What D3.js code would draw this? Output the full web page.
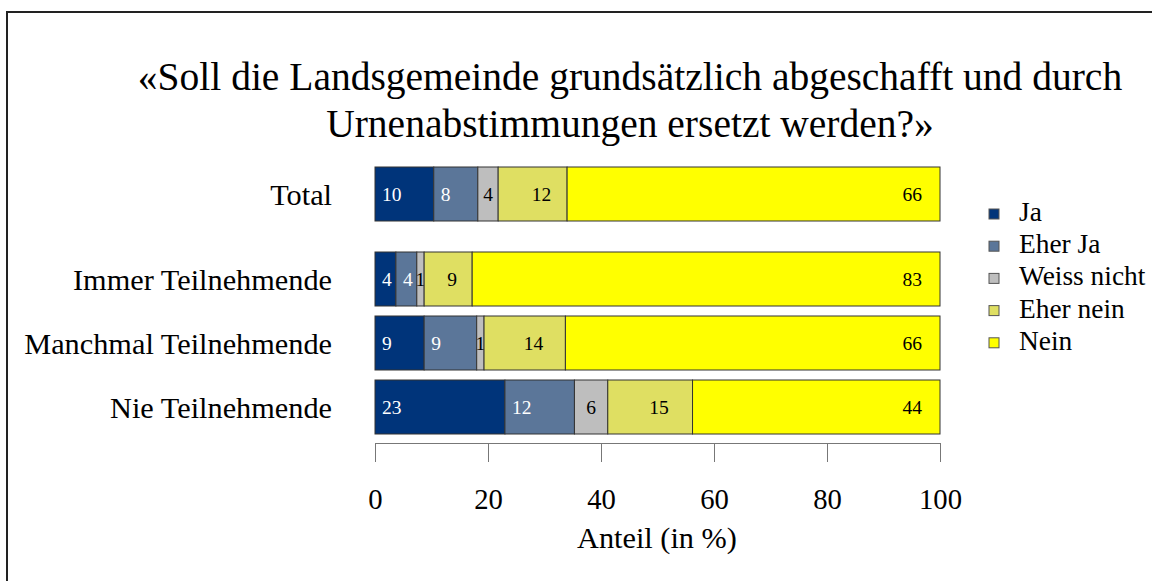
<!DOCTYPE html>
<html lang="de">
<head>
<meta charset="UTF-8">
<title>Landsgemeinde</title>
<script src="https://cdn.jsdelivr.net/npm/d3@7"></script>
<style>
  body { margin: 0; background: #fff; }
  text { font-family: "Liberation Serif", "DejaVu Serif", serif; }
</style>
</head>
<body>
<svg id="main" width="1152" height="581"></svg>
<script>
// data (percent)
categories = ["Total", "Immer Teilnehmende", "Manchmal Teilnehmende", "Nie Teilnehmende"];
keys = ["Ja", "Eher Ja", "Weiss nicht", "Eher nein", "Nein"];
ja         = [10.4, 3.7, 8.7, 23.0];
eherJa     = [7.8, 3.7, 9.3, 12.3];
weissNicht = [3.6, 1.3, 1.3, 5.9];
eherNein   = [12.2, 8.5, 14.4, 15.0];
nein       = [66.0, 82.8, 66.3, 43.8];
xTicks = [0, 20, 40, 60, 80, 100];
titleLines = ["«Soll die Landsgemeinde grundsätzlich abgeschafft und durch",
              "Urnenabstimmungen ersetzt werden?»"];

colors = ["#00347a", "#5b7699", "#bebebe", "#dfdf62", "#ffff00"];
textColors = ["#fff", "#fff", "#000", "#000", "#000"];

var svg = d3.select("svg#main");

// frame
svg.append("path")
  .attr("d", "M7,581 V12 H1152")
  .attr("fill", "none")
  .attr("stroke", "#222")
  .attr("stroke-width", 2);

// title
svg.append("g").selectAll("text")
  .data(titleLines)
  .enter().append("text")
  .attr("x", 630)
  .attr("y", function(d, i) { return 90 + i * 47; })
  .attr("text-anchor", "middle")
  .style("font-size", "39.5px")
  .text(function(d) { return d; });

var series = [ja, eherJa, weissNicht, eherNein, nein];
var table = categories.map(function(c, i) {
  var row = { cat: c };
  keys.forEach(function(k, j) { row[k] = series[j][i]; });
  return row;
});

var stacked = d3.stack().keys(keys)(table);

var x = d3.scaleLinear().domain([0, 100]).range([375, 940]);
var y = d3.scaleBand().domain(categories).range([188, 434]).paddingInner(10 / 64);
var totalShift = 21;
function rowTop(c) { return y(c) - (c === "Total" ? totalShift : 0); }

var groups = svg.selectAll("g.series")
  .data(stacked)
  .enter().append("g")
  .attr("class", "series");

groups.selectAll("rect")
  .data(function(d) { return d; })
  .enter().append("rect")
  .attr("x", function(d) { return x(d[0]); })
  .attr("y", function(d) { return rowTop(d.data.cat); })
  .attr("width", function(d) { return x(d[1]) - x(d[0]); })
  .attr("height", y.bandwidth())
  .attr("fill", function() { return colors[keys.indexOf(d3.select(this.parentNode).datum().key)]; })
  .attr("stroke", "#333")
  .attr("stroke-width", 1);

// value labels
groups.each(function(s, si) {
  d3.select(this).selectAll("text")
    .data(s)
    .enter().append("text")
    .attr("x", function(d) {
      if (si < 2) return x(d[0]) + 7;
      if (si === 2) return (x(d[0]) + x(d[1])) / 2;
      if (si === 3) return (x(d[0]) + x(d[1])) / 2 - 1;
      return x(100) - 18;
    })
    .attr("y", function(d) { return rowTop(d.data.cat) + y.bandwidth() / 2 + 7; })
    .attr("text-anchor", si < 2 ? "start" : si === 2 ? "middle" : si === 3 ? "start" : "end")
    .attr("fill", textColors[si])
    .style("font-size", "19.5px")
    .text(function(d) { return Math.round(d[1] - d[0]); });
});

// category labels
svg.append("g").selectAll("text")
  .data(categories)
  .enter().append("text")
  .attr("x", 332)
  .attr("y", function(c) { return rowTop(c) + y.bandwidth() / 2 + 11; })
  .attr("text-anchor", "end")
  .style("font-size", "30.3px")
  .text(function(c) { return c; });

// x axis
var axis = svg.append("g")
  .attr("transform", "translate(0,443)")
  .call(d3.axisBottom(x).tickValues(xTicks).tickSize(19).tickSizeOuter(0).tickPadding(27));
axis.select(".domain").attr("stroke", "#777");
axis.selectAll(".tick line").attr("stroke", "#777");
axis.selectAll(".tick text")
  .attr("fill", "#000")
  .style("font-family", "'Liberation Serif', serif")
  .style("font-size", "28.7px");

svg.append("text")
  .attr("x", 657)
  .attr("y", 548)
  .attr("text-anchor", "middle")
  .style("font-size", "30.3px")
  .text("Anteil (in %)");

// legend
var legend = svg.append("g").selectAll("g")
  .data(keys)
  .enter().append("g")
  .attr("transform", function(d, i) { return "translate(989," + (214 + i * 32.2) + ")"; });
legend.append("rect")
  .attr("x", 0).attr("y", -5)
  .attr("width", 10).attr("height", 10)
  .attr("fill", function(d, i) { return colors[i]; })
  .attr("stroke", "#555");
legend.append("text")
  .attr("x", 30).attr("y", 7)
  .style("font-size", "27.4px")
  .text(function(d) { return d; });
</script>
</body>
</html>
